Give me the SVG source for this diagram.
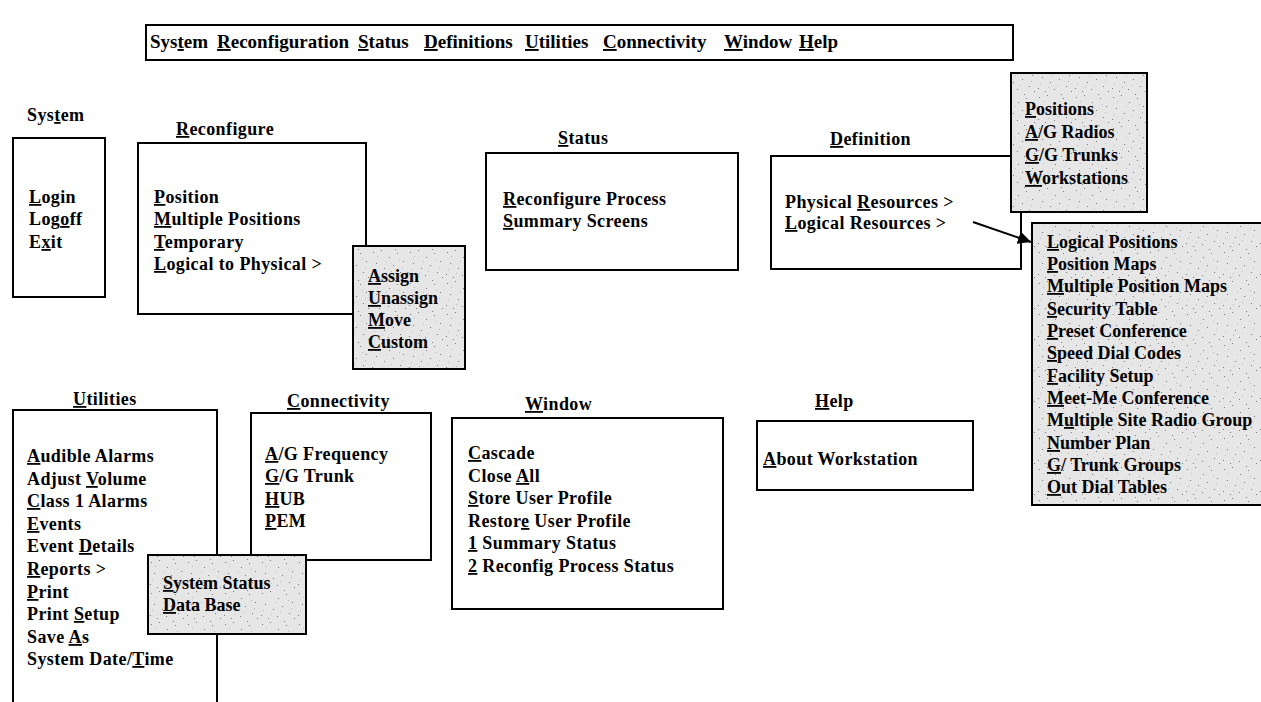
<svg xmlns="http://www.w3.org/2000/svg" width="1261" height="702" viewBox="0 0 1261 702">
<defs>
<pattern id="stip" width="37" height="31" patternUnits="userSpaceOnUse">
<rect width="37" height="31" fill="#e6e6e6"/>
<g fill="#7a7a7a">
<rect x="3" y="4" width="1" height="1"/><rect x="11" y="2" width="1" height="1"/><rect x="19" y="9" width="1" height="1"/><rect x="27" y="5" width="1" height="1"/><rect x="33" y="13" width="1" height="1"/><rect x="6" y="15" width="1" height="1"/><rect x="14" y="20" width="1" height="1"/><rect x="23" y="17" width="1" height="1"/><rect x="30" y="24" width="1" height="1"/><rect x="2" y="26" width="1" height="1"/><rect x="9" y="29" width="1" height="1"/><rect x="18" y="27" width="1" height="1"/><rect x="35" y="29" width="1" height="1"/><rect x="25" y="1" width="1" height="1"/>
</g>
<g fill="#bdbdbd">
<rect x="7" y="8" width="1" height="1"/><rect x="16" y="13" width="1" height="1"/><rect x="29" y="11" width="1" height="1"/><rect x="21" y="23" width="1" height="1"/><rect x="4" y="21" width="1" height="1"/><rect x="12" y="25" width="1" height="1"/><rect x="32" y="19" width="1" height="1"/>
</g>
</pattern>
<marker id="ah" viewBox="0 0 10 10" refX="10" refY="5" markerWidth="13" markerHeight="13" markerUnits="userSpaceOnUse" orient="auto"><path d="M0,0 L10,5 L0,10 z" fill="#000"/></marker>
</defs>
<style>
.box{fill:#fff;stroke:#000;stroke-width:2}
.sub{fill:url(#stip);stroke:#000;stroke-width:2}
.t{font-family:"Liberation Serif","Times New Roman",serif;font-weight:bold;font-size:18px;letter-spacing:0.4px;fill:#000}
.s{font-family:"Liberation Serif","Times New Roman",serif;font-weight:bold;font-size:18px;fill:#000}
.m{font-family:"Liberation Serif","Times New Roman",serif;font-weight:bold;font-size:19px;fill:#000}
.u{text-decoration:underline}
.cn{fill:none;stroke:#000;stroke-width:2}
</style>
<rect width="1261" height="702" fill="#fff"/>

<g id="menubar">
<rect class="box" x="146" y="25" width="867" height="35"/>
<text class="m" x="150" y="48">Sys<tspan class="u">t</tspan>em</text>
<text class="m" x="217" y="48"><tspan class="u">R</tspan>econfiguration</text>
<text class="m" x="358" y="48"><tspan class="u">S</tspan>tatus</text>
<text class="m" x="424" y="48"><tspan class="u">D</tspan>efinitions</text>
<text class="m" x="525" y="48"><tspan class="u">U</tspan>tilities</text>
<text class="m" x="603" y="48"><tspan class="u">C</tspan>onnectivity</text>
<text class="m" x="724" y="48"><tspan class="u">W</tspan>indow</text>
<text class="m" x="799" y="48"><tspan class="u">H</tspan>elp</text>
</g>

<g id="system">
<text class="t" x="27" y="121">Sys<tspan class="u">t</tspan>em</text>
<rect class="box" x="13" y="138" width="92" height="159"/>
<text class="t"><tspan x="29" y="203"><tspan class="u">L</tspan>ogin</tspan><tspan x="29" y="225">Log<tspan class="u">o</tspan>ff</tspan><tspan x="29" y="248">E<tspan class="u">x</tspan>it</tspan></text>
</g>

<g id="reconfigure">
<text class="t" x="176" y="135"><tspan class="u">R</tspan>econfigure</text>
<rect class="box" x="138" y="143" width="228" height="171"/>
<text class="t"><tspan x="154" y="203"><tspan class="u">P</tspan>osition</tspan><tspan x="154" y="225"><tspan class="u">M</tspan>ultiple Positions</tspan><tspan x="154" y="248"><tspan class="u">T</tspan>emporary</tspan><tspan x="154" y="270"><tspan class="u">L</tspan>ogical to Physical &gt;</tspan></text>
</g>

<g id="logical-to-physical">
<rect class="sub" x="353" y="246" width="112" height="123"/>
<text class="s"><tspan x="368" y="282"><tspan class="u">A</tspan>ssign</tspan><tspan x="368" y="304"><tspan class="u">U</tspan>nassign</tspan><tspan x="368" y="326"><tspan class="u">M</tspan>ove</tspan><tspan x="368" y="348"><tspan class="u">C</tspan>ustom</tspan></text>
</g>

<g id="status">
<text class="t" x="558" y="144"><tspan class="u">S</tspan>tatus</text>
<rect class="box" x="486" y="153" width="252" height="117"/>
<text class="t"><tspan x="503" y="205"><tspan class="u">R</tspan>econfigure Process</tspan><tspan x="503" y="227"><tspan class="u">S</tspan>ummary Screens</tspan></text>
</g>

<g id="definition">
<text class="t" x="830" y="145"><tspan class="u">D</tspan>efinition</text>
<rect class="box" x="771" y="156" width="250" height="113"/>
<text class="t"><tspan x="785" y="208">Physical <tspan class="u">R</tspan>esources &gt;</tspan><tspan x="785" y="229"><tspan class="u">L</tspan>ogical Resources &gt;</tspan></text>
</g>

<g id="physical-resources">
<rect class="sub" x="1011" y="73" width="136" height="139"/>
<text class="s"><tspan x="1025" y="115"><tspan class="u">P</tspan>ositions</tspan><tspan x="1025" y="138"><tspan class="u">A</tspan>/G Radios</tspan><tspan x="1025" y="161"><tspan class="u">G</tspan>/G Trunks</tspan><tspan x="1025" y="184"><tspan class="u">W</tspan>orkstations</tspan></text>
</g>

<g id="logical-resources">
<rect class="sub" x="1032" y="223" width="240" height="282"/>
<text class="s">
<tspan x="1047" y="248"><tspan class="u">L</tspan>ogical Positions</tspan>
<tspan x="1047" y="270"><tspan class="u">P</tspan>osition Maps</tspan>
<tspan x="1047" y="292"><tspan class="u">M</tspan>ultiple Position Maps</tspan>
<tspan x="1047" y="315"><tspan class="u">S</tspan>ecurity Table</tspan>
<tspan x="1047" y="337"><tspan class="u">P</tspan>reset Conference</tspan>
<tspan x="1047" y="359"><tspan class="u">S</tspan>peed Dial Codes</tspan>
<tspan x="1047" y="382"><tspan class="u">F</tspan>acility Setup</tspan>
<tspan x="1047" y="404"><tspan class="u">M</tspan>eet-Me Conference</tspan>
<tspan x="1047" y="426">M<tspan class="u">u</tspan>ltiple Site Radio Group</tspan>
<tspan x="1047" y="449"><tspan class="u">N</tspan>umber Plan</tspan>
<tspan x="1047" y="471"><tspan class="u">G</tspan>/ Trunk Groups</tspan>
<tspan x="1047" y="493"><tspan class="u">O</tspan>ut Dial Tables</tspan>
</text>
</g>

<g id="utilities">
<text class="t" x="73" y="405"><tspan class="u">U</tspan>tilities</text>
<path class="box" d="M13,704 V410 H217 V704"/>
<text class="t">
<tspan x="27" y="462"><tspan class="u">A</tspan>udible Alarms</tspan>
<tspan x="27" y="485">Adjust <tspan class="u">V</tspan>olume</tspan>
<tspan x="27" y="507"><tspan class="u">C</tspan>lass 1 Alarms</tspan>
<tspan x="27" y="530"><tspan class="u">E</tspan>vents</tspan>
<tspan x="27" y="552">Event <tspan class="u">D</tspan>etails</tspan>
<tspan x="27" y="575"><tspan class="u">R</tspan>eports &gt;</tspan>
<tspan x="27" y="598"><tspan class="u">P</tspan>rint</tspan>
<tspan x="27" y="620">Print <tspan class="u">S</tspan>etup</tspan>
<tspan x="27" y="643">Save <tspan class="u">A</tspan>s</tspan>
<tspan x="27" y="665">System Date/<tspan class="u">T</tspan>ime</tspan>
</text>
</g>

<g id="connectivity">
<text class="t" x="287" y="407"><tspan class="u">C</tspan>onnectivity</text>
<rect class="box" x="251" y="413" width="180" height="147"/>
<text class="t"><tspan x="265" y="460"><tspan class="u">A</tspan>/G Frequency</tspan><tspan x="265" y="482"><tspan class="u">G</tspan>/G Trunk</tspan><tspan x="265" y="505"><tspan class="u">H</tspan>UB</tspan><tspan x="265" y="527"><tspan class="u">P</tspan>EM</tspan></text>
</g>

<g id="reports">
<rect class="sub" x="148" y="555" width="158" height="79"/>
<text class="s"><tspan x="163" y="589"><tspan class="u">S</tspan>ystem Status</tspan><tspan x="163" y="611"><tspan class="u">D</tspan>ata Base</tspan></text>
</g>

<g id="window">
<text class="t" x="525" y="410"><tspan class="u">W</tspan>indow</text>
<rect class="box" x="452" y="418" width="271" height="191"/>
<text class="t">
<tspan x="468" y="459"><tspan class="u">C</tspan>ascade</tspan>
<tspan x="468" y="482">Close <tspan class="u">A</tspan>ll</tspan>
<tspan x="468" y="504"><tspan class="u">S</tspan>tore User Profile</tspan>
<tspan x="468" y="527">Restor<tspan class="u">e</tspan> User Profile</tspan>
<tspan x="468" y="549"><tspan class="u">1</tspan> Summary Status</tspan>
<tspan x="468" y="572"><tspan class="u">2</tspan> Reconfig Process Status</tspan>
</text>
</g>

<g id="help">
<text class="t" x="815" y="407"><tspan class="u">H</tspan>elp</text>
<rect class="box" x="757" y="421" width="216" height="69"/>
<text class="t" x="763" y="465"><tspan class="u">A</tspan>bout Workstation</text>
</g>

<g id="connectors">
<line class="cn" x1="973" y1="222" x2="1031" y2="242" marker-end="url(#ah)"/>
</g>
</svg>
